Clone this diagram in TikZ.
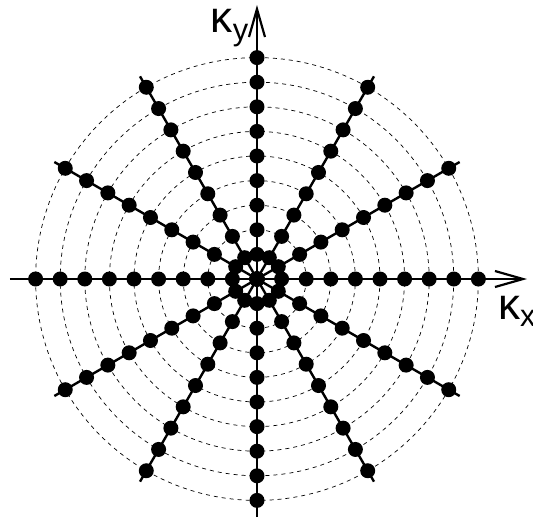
\documentclass[tikz,border=0pt]{standalone}
\usepackage{fontspec}
\setmainfont{Liberation Sans}
\usetikzlibrary{arrows.meta}

\begin{document}
\begin{tikzpicture}[x=1pt, y=1pt,
  ring/.style={dash pattern=on 4pt off 4pt, line width=0.7pt},
  spoke/.style={line width=2.4pt},
  axis/.style={line width=2.2pt, -{Straight Barb[length=28pt,width=16pt]}},
  dot/.style={circle, fill=black, inner sep=0pt, minimum size=15pt},
  lbl/.style={inner sep=0pt, font=\fontsize{44}{44}\selectfont}]
\def\dr{24.6}
\useasboundingbox (-257,-238) rectangle (276,279);
% dashed circles
\foreach \k in {1,...,9}
  \draw[ring] (0,0) circle ({\k*\dr});
% spokes between the axes
\foreach \a in {30,60,120,150,210,240,300,330}
  \draw[spoke] (0,0) -- (\a:234);
% axes
\coordinate (xs) at (-247,0);
\coordinate (xe) at (270,0);
\coordinate (ys) at (0,-238);
\coordinate (ye) at (0,274);
\draw[axis] (xs) -- (xe);
\draw[axis] (ys) -- (ye);
% dots on every spoke, k = 0..9
\foreach \a in {0,30,...,330}
  \foreach \k in {0,...,9}
    \node[dot] (d-\a-\k) at (\a:{\k*\dr}) {};
\node[lbl, anchor=base east] (ky) at (-8,246) {κ\textsubscript{y}};
\node[lbl, anchor=base west] (kx) at (241,-40) {κ\textsubscript{x}};
\end{tikzpicture}
\end{document}
